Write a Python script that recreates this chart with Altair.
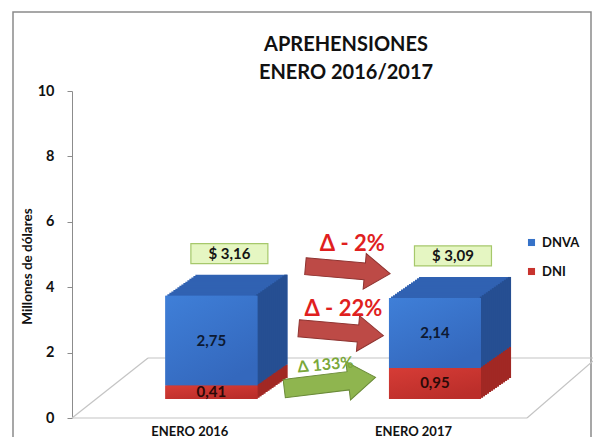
import altair as alt
import pandas as pd

# ---------------- data ----------------
categories = ["ENERO 2016", "ENERO 2017"]
series = ["DNVA", "DNI"]
dnva = [2.75, 2.14]
dni = [0.41, 0.95]
delta_labels = ["Δ - 2%", "Δ - 22%", "Δ 133%"]
title_lines = ["APREHENSIONES", "ENERO 2016/2017"]

# ---------------- styles ----------------
FONT = "Lato"
BLUE, BLUE_TOP, BLUE_SIDE = "#3672c8", "#3062b2", "#264f92"
RED, RED_TOP, RED_SIDE = "#c8332e", "#a82b27", "#a12824"
DEPTH_X, DEPTH_Y, LIFT = 30, 21, 19
BAR_W = 92
N_STEPS = 15


def fmt(v):
    return f"{v:.2f}".replace(".", ",")


rows = []
for i, c in enumerate(categories):
    rows.append(dict(pos=i, cat=c, serie="DNI", y0=0.0, y1=dni[i], mid=dni[i] / 2,
                     lab=fmt(dni[i]), top=RED_TOP, side=RED_SIDE, tcol="#2b0a08"))
    rows.append(dict(pos=i, cat=c, serie="DNVA", y0=dni[i], y1=dni[i] + dnva[i],
                     mid=dni[i] + dnva[i] / 2, lab=fmt(dnva[i]), top=BLUE_TOP,
                     side=BLUE_SIDE, tcol="#0d1a33"))
df = pd.DataFrame(rows)

totals = pd.DataFrame({
    "pos": list(range(len(categories))),
    "total": [a + b for a, b in zip(dnva, dni)],
})
totals["lab"] = ["$ " + fmt(t) for t in totals["total"]]

# annotation layout (arrows between the two years)
ann = pd.DataFrame({
    "text": delta_labels,
    "ax": [0.61, 0.58, 0.53],
    "ay": [4.53, 2.63, 1.07],
    "tx": [0.63, 0.59, 0.51],
    "ty": [5.32, 3.33, 1.62],
    "kind": ["red", "red", "green"],
})

one = pd.DataFrame({"a": [0]})

xscale = alt.Scale(domain=[-0.601, 1.671], nice=False, zero=False)
yscale = alt.Scale(domain=[0, 10], nice=False)

label_expr = "[" + ",".join(f"'{c}'" for c in categories) + "][datum.value]"

x_axis = alt.Axis(values=[0, 1], labelExpr=label_expr, ticks=False, domain=False, grid=False,
                  title=None, labelOffset=-22, labelPadding=7, labelFont=FONT,
                  labelFontWeight="bold", labelFontSize=13, labelColor="#111")
y_axis = alt.Axis(values=[0, 2, 4, 6, 8, 10], grid=False, title="Millones de dólares",
                  titleFont=FONT, titleFontSize=13.5, titleFontWeight="bold", titleColor="#111",
                  titleAngle=270, titleX=-45, titleY=175, titleAlign="center",
                  titleBaseline="middle", labelFont=FONT, labelFontSize=14.5,
                  labelFontWeight="bold", labelColor="#111",
                  labelPadding=13, tickSize=5, domainColor="#8c8c8c", tickColor="#8c8c8c")


def X(f):
    return alt.X(f, scale=xscale, axis=x_axis)


def Y(f):
    return alt.Y(f, scale=yscale, axis=y_axis)


# ---------------- decorations ----------------
frame = alt.Chart(one).mark_rect(fill="transparent", stroke="#8a8a8a", strokeWidth=1.5).encode(
    x=alt.value(-59), x2=alt.value(519), y=alt.value(-79), y2=alt.value(400))

floor_segments = [
    (0, 455, 327, 327),
    (76, 521, 267, 267),
    (0, 76, 327, 267),
    (455, 521, 327, 270),
]
floor_layers = [
    alt.Chart(one).mark_rule(color="#c4c4c4", strokeWidth=1.2).encode(
        x=alt.value(a), x2=alt.value(b), y=alt.value(c), y2=alt.value(d))
    for a, b, c, d in floor_segments
]

title_layers = [
    alt.Chart(one).mark_text(text=t, font=FONT, fontSize=20, fontWeight="bold", color="#111",
                             align="center", baseline="middle").encode(
        x=alt.value(274), y=alt.value(yy))
    for t, yy in zip(title_lines, [-46, -18])
]

# ---------------- 3D-ish bars ----------------
ext_layers = []
for k in range(N_STEPS, 0, -1):
    off_x = k * DEPTH_X / N_STEPS
    off_y = -LIFT - k * DEPTH_Y / N_STEPS
    ext_layers.append(
        alt.Chart(df).mark_bar(width=BAR_W, xOffset=off_x, x2Offset=off_x,
                               yOffset=off_y, y2Offset=off_y).encode(
            x=X("pos:Q"), y=Y("y0:Q"), y2="y1:Q",
            fill=alt.Fill("top:N", scale=None, legend=None),
        )
    )
side_layers = []
for k in range(N_STEPS, -1, -1):
    off_x = k * DEPTH_X / N_STEPS + BAR_W / 2 - 1.5
    off_y = -LIFT - k * DEPTH_Y / N_STEPS
    side_layers.append(
        alt.Chart(df).mark_bar(width=3.2, xOffset=off_x, x2Offset=off_x,
                               yOffset=off_y, y2Offset=off_y).encode(
            x=X("pos:Q"), y=Y("y0:Q"), y2="y1:Q",
            fill=alt.Fill("side:N", scale=None, legend=None),
        )
    )

front = alt.Chart(df).mark_bar(width=BAR_W, yOffset=-LIFT, y2Offset=-LIFT).encode(
    x=X("pos:Q"),
    y=Y("y0:Q"),
    y2="y1:Q",
    color=alt.Color("serie:N", scale=alt.Scale(domain=series, range=[BLUE, RED]),
                    legend=alt.Legend(orient="none", legendX=453, legendY=145, title=None,
                                      symbolType="square", symbolSize=50,
                                      labelFont=FONT, labelFontWeight="bold",
                                      labelFontSize=13, labelColor="#111", labelOffset=4,
                                      rowPadding=15, symbolStrokeWidth=0)),
)

gradients = {
    "DNVA": alt.Gradient(gradient="linear", x1=0, y1=0, x2=0.6, y2=1,
                         stops=[alt.GradientStop(color="#3f7fd8", offset=0),
                                alt.GradientStop(color="#3468bd", offset=1)]),
    "DNI": alt.Gradient(gradient="linear", x1=0, y1=0, x2=0.6, y2=1,
                        stops=[alt.GradientStop(color="#d63c36", offset=0),
                               alt.GradientStop(color="#bb2e2a", offset=1)]),
}
front_grad = [
    alt.Chart(df).transform_filter(alt.datum.serie == s).mark_bar(
        width=BAR_W, yOffset=-LIFT, y2Offset=-LIFT, color=gradients[s]).encode(
        x=X("pos:Q"), y=Y("y0:Q"), y2="y1:Q")
    for s in series
]

values_txt = alt.Chart(df).mark_text(font=FONT, fontWeight="bold", fontSize=15,
                                     yOffset=-LIFT).encode(
    x=X("pos:Q"),
    y=Y("mid:Q"),
    text="lab:N",
    fill=alt.Fill("tcol:N", scale=None, legend=None),
)

BOX = "M-1,-0.26L1,-0.26L1,0.26L-1,0.26Z"
boxes = alt.Chart(totals).mark_point(shape=BOX, size=77 ** 2, filled=True, fill="#e5f6c2",
                                     stroke="#a6c86b", strokeWidth=1.2, opacity=1,
                                     xOffset=18, yOffset=-61).encode(
    x=X("pos:Q"),
    y=Y("total:Q"),
)
boxes_txt = alt.Chart(totals).mark_text(font=FONT, fontWeight="bold", fontSize=15,
                                        color="#151515", xOffset=18, yOffset=-61).encode(
    x=X("pos:Q"),
    y=Y("total:Q"),
    text="lab:N",
)

ARROW = "M-1,-0.2L0.4,-0.2L0.4,-0.42L1,0L0.4,0.42L0.4,0.2L-1,0.2Z"
red_ann = ann[ann["kind"] == "red"]
green_ann = ann[ann["kind"] == "green"]

red_arrows = alt.Chart(red_ann).mark_point(shape=ARROW, size=85 ** 2, filled=True,
                                           fill="#bd4a46", stroke="#8e3330", strokeWidth=1,
                                           opacity=1, angle=5).encode(
    x=X("ax:Q"),
    y=Y("ay:Q"),
)
green_arrows = alt.Chart(green_ann).mark_point(shape=ARROW, size=92 ** 2, filled=True,
                                               fill="#8fb54f", stroke="#6a8a38", strokeWidth=1,
                                               opacity=1, angle=353).encode(
    x=X("ax:Q"),
    y=Y("ay:Q"),
)
red_txt = alt.Chart(red_ann).mark_text(font=FONT, fontWeight="bold", fontSize=22,
                                       color="#e01f1f").encode(
    x=X("tx:Q"),
    y=Y("ty:Q"),
    text="text:N",
)
green_txt = alt.Chart(green_ann).mark_text(font=FONT, fontWeight="bold", fontSize=16,
                                           color="#7aa83a", angle=355).encode(
    x=X("tx:Q"),
    y=Y("ty:Q"),
    text="text:N",
)

chart = alt.layer(
    frame, *floor_layers, *title_layers, *ext_layers, *side_layers, front, *front_grad,
    values_txt, boxes, boxes_txt, red_arrows, green_arrows, red_txt, green_txt,
).properties(
    width=518, height=327,
    autosize=alt.AutoSizeParams(type="none"),
    padding={"left": 64, "top": 83, "right": 3, "bottom": 19},
).configure(background="white").configure_view(stroke=None)

chart.save("out.html", embed_options={"renderer": "svg", "actions": False})
